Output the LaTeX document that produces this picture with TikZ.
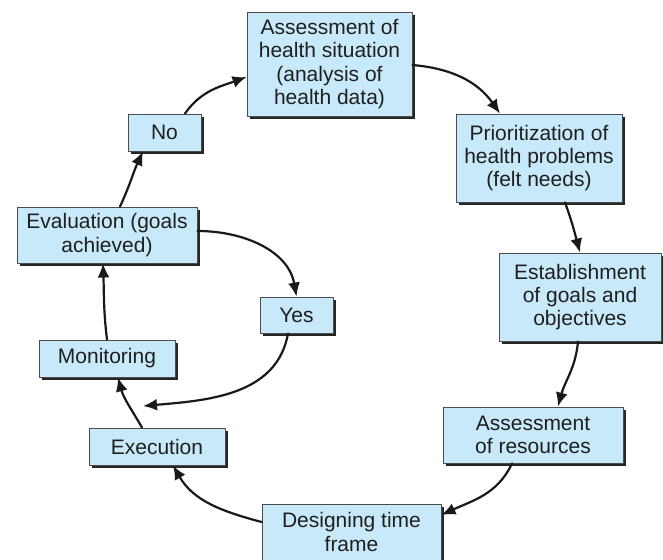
\documentclass[tikz,border=0pt]{standalone}
\usepackage{fontspec}
\setmainfont{Liberation Sans}
\usetikzlibrary{arrows.meta, calc, shadows}

\definecolor{boxBlue}{RGB}{200,233,250}

\begin{document}
\begin{tikzpicture}[x=1pt, y=1pt, line cap=round, line join=round, >={Latex[length=14pt,width=12pt]},
  stage/.style={draw=black!70, line width=0.9pt, fill=boxBlue, text=black!88, align=center,
    inner sep=0pt, font=\fontsize{21}{23.3}\selectfont,
    drop shadow={shadow xshift=2.6pt, shadow yshift=-2.6pt, fill=black!85, opacity=1}},
  flow/.style={->, line width=2.2pt, black!90}]

  % Page frame (pixel grid of the reference)
  \useasboundingbox (0,0) rectangle (663,559);

  % Stages of the planning cycle
  \node[stage, minimum width=165pt, minimum height=104pt] (assess) at (329.5,495) {Assessment of\\health situation\\(analysis of\\health data)};
  \node[stage, minimum width=166pt, minimum height=88pt]  (prior)  at (539,401)   {Prioritization of\\health problems\\(felt needs)};
  \node[stage, minimum width=162pt, minimum height=88pt]  (estab)  at (580,262)   {Establishment\\of goals and\\objectives};
  \node[stage, minimum width=180pt, minimum height=56pt]  (resour) at (533,124)   {Assessment\\of resources};
  \node[stage, minimum width=179pt, minimum height=56pt]  (design) at (351.5,27)  {Designing time\\frame};
  \node[stage, minimum width=136pt, minimum height=37pt]  (exec)   at (157,112.5) {Execution};
  \node[stage, minimum width=136pt, minimum height=37pt]  (monit)  at (107,200.5) {Monitoring};
  \node[stage, minimum width=180pt, minimum height=56pt]  (eval)   at (107,324)   {Evaluation (goals\\achieved)};
  \node[stage, minimum width=73pt,  minimum height=37pt]  (no)     at (164.5,426.5) {No};
  \node[stage, minimum width=73pt,  minimum height=36pt]  (yes)    at (296.5,244) {Yes};

  % Where the "Yes" branch rejoins the loop
  \coordinate (merge) at (143,153);

  % Main cycle
  \draw[flow] ($(no.north)+(20.5,0)$) to[out=55, in=200] ($(assess.west)+(0,-13)$);
  \draw[flow] ($(assess.east)+(0,-1)$) to[out=-5, in=125] ($(prior.north)+(-39,0)$);
  \draw[flow] ($(prior.south)+(26,0)$) to[out=-70, in=105] (estab.north);
  \draw[flow] ($(estab.south)+(-2,0)$) to[out=-95, in=75] ($(resour.north)+(25,0)$);
  \draw[flow] ($(resour.south)+(-21,0)$) to[out=-115, in=25] ($(design.east)+(0,17)$);
  \draw[flow] ($(design.west)+(0,10)$) to[out=165, in=-60] ($(exec.south)+(16,0)$);
  \draw[flow] ($(exec.north)+(-15,0)$) to[out=120, in=-75] ($(monit.south)+(11,0)$);
  \draw[flow] (monit.north) to[out=97, in=-88] ($(eval.south)+(-4,0)$);
  \draw[flow] ($(eval.north)+(13,0)$) to[out=65, in=-115] ($(no.south)+(-21.5,0)$);

  % Goals achieved branch
  \draw[flow] ($(eval.east)+(0,4)$) to[out=0, in=100] (yes.north);
  \draw[flow] ($(yes.south)+(-8.5,0)$) to[out=-100, in=5] (merge);

\end{tikzpicture}
\end{document}
